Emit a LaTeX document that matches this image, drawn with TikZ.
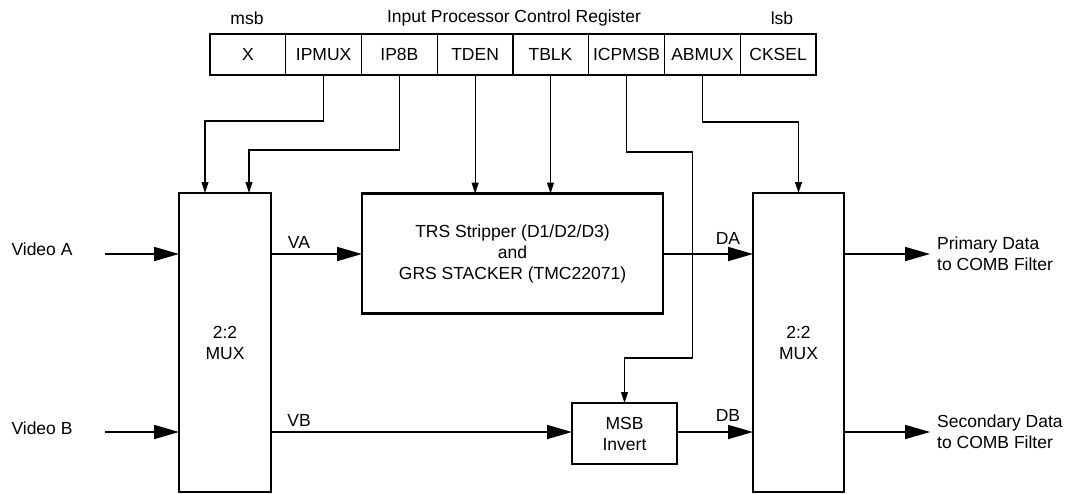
\documentclass[tikz,border=0pt]{standalone}
\usepackage{fontspec}
\setmainfont{Liberation Sans}
\usetikzlibrary{arrows.meta}

\tikzset{
  blk/.style={draw, line width=2.2pt, inner sep=0pt, outer sep=0pt, align=center},
  cell/.style={draw, line width=1.1pt, inner sep=0pt, outer sep=0pt, minimum width=75.75, minimum height=41},
  bigarrow/.style={line width=1.8pt, -{Triangle[length=25pt,width=14pt]}},
  ctl/.style={line width=1.1pt, -{Triangle[length=11pt,width=7pt]}},
  lbl/.style={inner sep=0pt}
}

\begin{document}
\begin{tikzpicture}[x=1pt, y=-1pt, font=\fontsize{17.5}{21}\selectfont]
\useasboundingbox (0,0) rectangle (1068,493);

% control register
\node[lbl] (msblbl) at (247,18) {msb};
\node[lbl] (title) at (514,18) {Input Processor Control Register};
\node[lbl] (lsblbl) at (782,18) {lsb};
\node[cell] (cx) at (247.9,54.5) {X};
\node[cell] (cipmux) at (323.6,54.5) {IPMUX};
\node[cell] (cip8b) at (399.4,54.5) {IP8B};
\node[cell] (ctden) at (475.1,54.5) {TDEN};
\node[cell] (ctblk) at (550.5,54.5) {TBLK};
\node[cell] (cicpmsb) at (626.6,54.5) {ICPMSB};
\node[cell] (cabmux) at (702.4,54.5) {ABMUX};
\node[cell] (ccksel) at (778.1,54.5) {CKSEL};
\draw[line width=2.2pt] (cx.north west) rectangle (ccksel.south east);

% blocks
\node[blk, minimum width=92, minimum height=299] (mux1) at (225,342.5) {2:2\\MUX};
\node[blk, minimum width=301, minimum height=120] (trs) at (512.5,253.5)
  {TRS Stripper (D1/D2/D3)\\and\\GRS STACKER (TMC22071)};
\node[blk, minimum width=105, minimum height=61] (msb) at (624.5,433.5) {MSB\\Invert};
\node[blk, minimum width=91, minimum height=299] (mux2) at (798.5,342.5) {2:2\\MUX};

% inputs and outputs
\node[lbl] (vida) at (42,249) {Video A};
\node[lbl] (vidb) at (42,428) {Video B};
\coordinate (ina) at (105,254);
\coordinate (inb) at (105,432);
\node[lbl, anchor=west, align=left] (prim) at (937,254) {Primary Data\\to COMB Filter};
\node[lbl, anchor=west, align=left] (sec) at (937,432) {Secondary Data\\to COMB Filter};
\coordinate (outa) at (930,254);
\coordinate (outb) at (930,432);

\draw[bigarrow] (ina) -- (ina -| mux1.west);
\draw[bigarrow] (inb) -- (inb -| mux1.west);
\draw[bigarrow] (mux1.east |- ina) -- (trs.west |- ina);
\draw[bigarrow] (mux1.east |- inb) -- (msb.west |- inb);
\draw[bigarrow] (trs.east |- ina) -- (mux2.west |- ina);
\draw[bigarrow] (msb.east |- inb) -- (mux2.west |- inb);
\draw[bigarrow] (mux2.east |- ina) -- (outa);
\draw[bigarrow] (mux2.east |- inb) -- (outb);

\node[lbl] (va) at (299,242) {VA};
\node[lbl] (vb) at (299,420) {VB};
\node[lbl] (da) at (728,238) {DA};
\node[lbl] (db) at (728,415) {DB};

% control lines
\coordinate (m1a) at (205,193);
\coordinate (m1b) at (249,193);
\draw[ctl] (cipmux.south) -- ++(0,46) -| (m1a);
\draw[ctl] (cip8b.south) -- ++(0,75) -| (m1b);
\draw[ctl] (ctden.south) -- (ctden.south |- trs.north);
\draw[ctl] (ctblk.south) -- (ctblk.south |- trs.north);
\draw[ctl] (cicpmsb.south) -- ++(0,77) -- ++(66,0) -- ++(0,206) -| (msb.north);
\draw[ctl] (cabmux.south) -- ++(0,47) -| (mux2.north);
\end{tikzpicture}
\end{document}
